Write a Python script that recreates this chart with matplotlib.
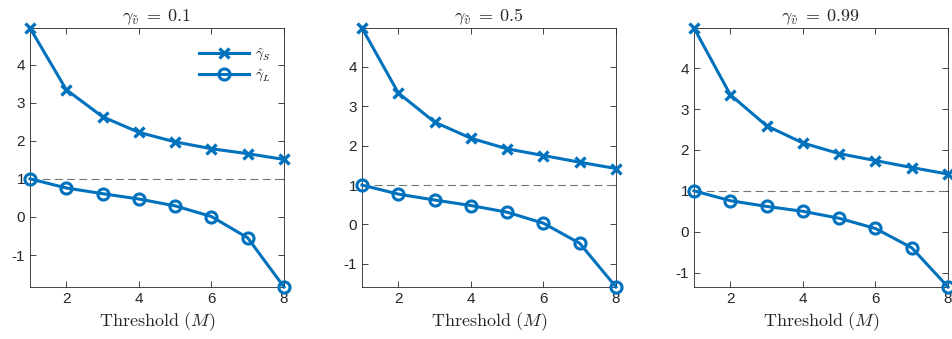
import matplotlib
matplotlib.use("Agg")
import matplotlib.pyplot as plt

plt.rcParams['font.family'] = ['Liberation Sans', 'DejaVu Sans']
plt.rcParams['mathtext.fontset'] = 'cm'
plt.rcParams['axes.unicode_minus'] = False  # MATLAB 风格的 "-1"

# ---- data ----
thresholds = [1, 2, 3, 4, 5, 6, 7, 8]
gamma_v = ['0.1', '0.5', '0.99']
gamma_S = [
    [4.96, 3.34, 2.63, 2.22, 1.97, 1.79, 1.66, 1.51],
    [4.99, 3.34, 2.60, 2.19, 1.92, 1.75, 1.58, 1.42],
    [4.98, 3.35, 2.59, 2.17, 1.91, 1.74, 1.57, 1.41],
]
gamma_L = [
    [1.00, 0.76, 0.61, 0.47, 0.29, 0.01, -0.55, -1.84],
    [1.00, 0.77, 0.62, 0.48, 0.31, 0.03, -0.48, -1.59],
    [1.00, 0.76, 0.62, 0.50, 0.33, 0.08, -0.39, -1.35],
]
ref_level = 1.0
xticks = [2, 4, 6, 8]
yticks = [-1, 0, 1, 2, 3, 4]

blue = '#0072BD'
fig = plt.figure(figsize=(9.53, 3.39), dpi=100)
lefts = [30, 362, 694]

for i in range(3):
    ax = fig.add_axes([lefts[i] / 953, 52 / 339, 254 / 953, 259 / 339])
    ax.plot(thresholds, [ref_level] * len(thresholds), '--', color='0.45',
            lw=0.8, dashes=(7, 4))
    ax.plot(thresholds, gamma_S[i], '-x', color=blue, lw=2.2, ms=7, mew=2.4,
            clip_on=False, zorder=4, label=r'$\hat{\gamma}_S$')
    ax.plot(thresholds, gamma_L[i], '-o', color=blue, lw=2.2, ms=8, mew=2.2,
            mfc='none', clip_on=False, zorder=4, label=r'$\hat{\gamma}_L$')
    # axis tight
    ax.set_xlim(thresholds[0], thresholds[-1])
    ax.set_ylim(min(gamma_L[i]), max(gamma_S[i]))
    ax.set_xticks(xticks)
    ax.set_yticks(yticks)
    ax.tick_params(direction='in', top=True, right=True, length=4,
                   labelsize=11, colors='#262626', width=0.6)
    for sp in ax.spines.values():
        sp.set_color('#262626')
        sp.set_linewidth(0.6)
    ax.set_title(r'$\gamma_{\tilde{v}}\;=\;%s$' % gamma_v[i], fontsize=13,
                 color='#262626', pad=5)
    ax.set_xlabel(r'$\mathrm{Threshold}\ (M)$', fontsize=13,
                  color='#262626', labelpad=3)
    if i == 0:
        ax.legend(loc='upper right', frameon=False, fontsize=10,
                  handlelength=3.6, handletextpad=0.4, labelspacing=0.35,
                  bbox_to_anchor=(0.97, 0.95), borderaxespad=0)

fig.savefig('out.png', dpi=100)
